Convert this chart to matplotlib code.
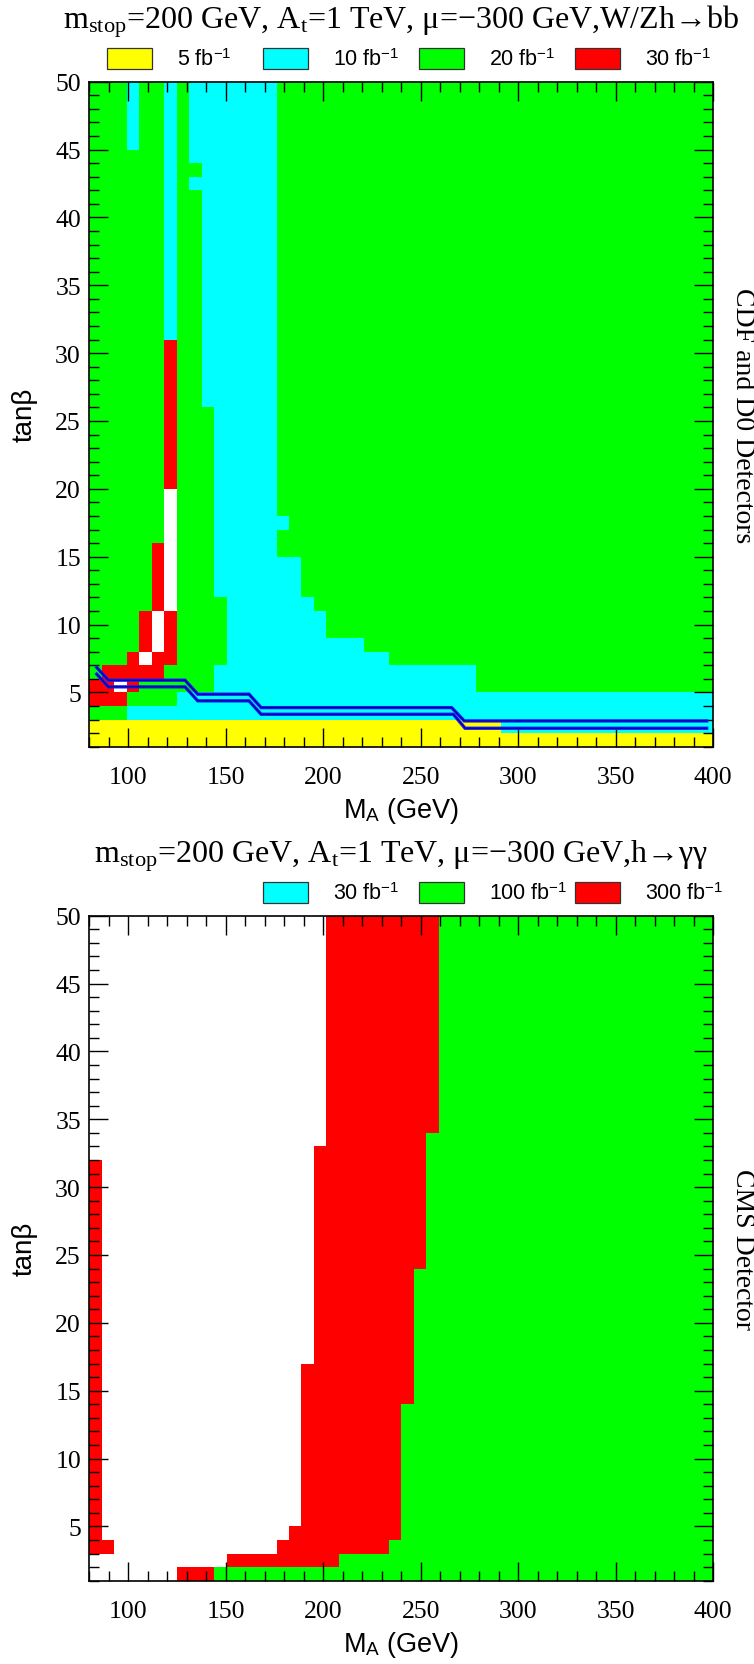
import matplotlib
matplotlib.use('Agg')
import numpy as np
import matplotlib.pyplot as plt
from matplotlib.colors import ListedColormap, BoundaryNorm
from matplotlib.patches import Rectangle
from matplotlib.ticker import MultipleLocator

plt.rcParams['mathtext.fontset'] = 'custom'
plt.rcParams['mathtext.rm'] = 'Liberation Serif'
plt.rcParams['mathtext.it'] = 'Liberation Serif:italic'
plt.rcParams['mathtext.sf'] = 'Liberation Sans'

SERIF = ['Liberation Serif', 'DejaVu Serif']
SANS = ['Liberation Sans', 'DejaVu Sans']

# reach levels: W = not reached, Y = 5 fb-1, C = 10/30 fb-1, G = 20/100 fb-1, R = 30/300 fb-1
W, Y, C, G, R = 0, 1, 2, 3, 4
level_colors = ['white', '#ffff00', '#00ffff', '#00ff00', '#ff0000']

# scan grid: M_A in 50 steps of 6.4 GeV, tan(beta) in steps of 1
ma_edges = np.linspace(80, 400, 51)
tb_edges = np.arange(1, 51)

# Tevatron W/Zh -> bb : (tanb_lo, tanb_hi, runs of (level, n columns) from M_A = 80 upward)
tev_rows = [
    (1, 2, [(Y, 50)]),
    (2, 3, [(Y, 33), (C, 17)]),
    (3, 4, [(G, 3), (C, 47)]),
    (4, 5, [(R, 3), (G, 4), (C, 43)]),
    (5, 6, [(R, 2), (W, 1), (R, 1), (G, 6), (C, 21), (G, 19)]),
    (6, 7, [(G, 1), (R, 5), (G, 4), (C, 21), (G, 19)]),
    (7, 8, [(G, 3), (R, 1), (W, 1), (R, 2), (G, 4), (C, 13), (G, 26)]),
    (8, 9, [(G, 4), (R, 1), (W, 1), (R, 1), (G, 4), (C, 11), (G, 28)]),
    (9, 11, [(G, 4), (R, 1), (W, 1), (R, 1), (G, 4), (C, 8), (G, 31)]),
    (11, 12, [(G, 5), (R, 1), (W, 1), (G, 4), (C, 7), (G, 32)]),
    (12, 15, [(G, 5), (R, 1), (W, 1), (G, 3), (C, 7), (G, 33)]),
    (15, 16, [(G, 5), (R, 1), (W, 1), (G, 3), (C, 5), (G, 35)]),
    (16, 17, [(G, 6), (W, 1), (G, 3), (C, 5), (G, 35)]),
    (17, 18, [(G, 6), (W, 1), (G, 3), (C, 6), (G, 34)]),
    (18, 20, [(G, 6), (W, 1), (G, 3), (C, 5), (G, 35)]),
    (20, 26, [(G, 6), (R, 1), (G, 3), (C, 5), (G, 35)]),
    (26, 31, [(G, 6), (R, 1), (G, 2), (C, 6), (G, 35)]),
    (31, 42, [(G, 6), (C, 1), (G, 2), (C, 6), (G, 35)]),
    (42, 43, [(G, 6), (C, 1), (G, 1), (C, 7), (G, 35)]),
    (43, 44, [(G, 6), (C, 1), (G, 2), (C, 6), (G, 35)]),
    (44, 45, [(G, 6), (C, 1), (G, 1), (C, 7), (G, 35)]),
    (45, 50, [(G, 3), (C, 1), (G, 2), (C, 1), (G, 1), (C, 7), (G, 35)]),
]

# CMS h -> gamma gamma
cms_rows = [
    (1, 2, [(W, 7), (R, 3), (G, 40)]),
    (2, 3, [(W, 11), (R, 9), (G, 30)]),
    (3, 4, [(R, 2), (W, 13), (R, 9), (G, 26)]),
    (4, 5, [(R, 1), (W, 15), (R, 9), (G, 25)]),
    (5, 14, [(R, 1), (W, 16), (R, 8), (G, 25)]),
    (14, 17, [(R, 1), (W, 16), (R, 9), (G, 24)]),
    (17, 24, [(R, 1), (W, 17), (R, 8), (G, 24)]),
    (24, 32, [(R, 1), (W, 17), (R, 9), (G, 23)]),
    (32, 33, [(W, 18), (R, 9), (G, 23)]),
    (33, 34, [(W, 19), (R, 8), (G, 23)]),
    (34, 50, [(W, 19), (R, 9), (G, 22)]),
]

# blue contour lines in the upper panel
line1_ma = [83.8, 89.8, 129.1, 135.6, 161.9, 168.1, 265.8, 272.3, 396.6]
line1_tb = [6.84, 5.90, 5.90, 4.87, 4.87, 3.88, 3.88, 2.90, 2.90]
line2_ma = [83.8, 89.8, 129.1, 135.6, 161.9, 168.1, 266.7, 272.7, 396.6]
line2_tb = [6.35, 5.41, 5.41, 4.38, 4.38, 3.39, 3.39, 2.36, 2.36]

tev_legend = [(Y, '5 fb'), (C, '10 fb'), (G, '20 fb'), (R, '30 fb')]
cms_legend = [(C, '30 fb'), (G, '100 fb'), (R, '300 fb')]

tev_title = r'm$_{\mathrm{stop}}$=200 GeV, A$_{\mathrm{t}}$=1 TeV, μ=−300 GeV,W/Zh→bb'
cms_title = r'm$_{\mathrm{stop}}$=200 GeV, A$_{\mathrm{t}}$=1 TeV, μ=−300 GeV,h→γγ'

W_PX, H_PX = 754, 1665
AX_L, AX_W, AX_H = 89.3, 624, 665


def build_grid(rows):
    z = np.zeros((len(tb_edges) - 1, len(ma_edges) - 1), dtype=int)
    for lo, hi, runs in rows:
        vals = np.concatenate([[lev] * n for lev, n in runs])
        z[lo - 1:hi - 1, :] = vals
    return z


def fx(px):
    return px / W_PX


def fy(px):
    return 1 - px / H_PX


def make_panel(fig, top, rows, title, legend, legend_start, side_label):
    ax = fig.add_axes([fx(AX_L), fy(top + AX_H), AX_W / W_PX, AX_H / H_PX])
    cmap = ListedColormap(level_colors)
    norm = BoundaryNorm(np.arange(-0.5, 5.5, 1), cmap.N)
    ax.pcolormesh(ma_edges, tb_edges, build_grid(rows), cmap=cmap, norm=norm,
                  edgecolors='none', antialiased=False)
    ax.set_xlim(80, 400)
    ax.set_ylim(1, 50)
    ax.xaxis.set_major_locator(MultipleLocator(50))
    ax.xaxis.set_minor_locator(MultipleLocator(10))
    ax.yaxis.set_major_locator(MultipleLocator(5))
    ax.yaxis.set_minor_locator(MultipleLocator(1))
    ax.tick_params(which='both', direction='in', top=True, right=True, width=1.0, colors='black')
    ax.tick_params(which='major', length=14)
    ax.tick_params(which='minor', length=7.5)
    ax.tick_params(axis='x', which='major', pad=14, labelsize=18.5)
    ax.tick_params(axis='y', which='major', pad=6, labelsize=18.5)
    for lab in ax.get_xticklabels() + ax.get_yticklabels():
        lab.set_family(SERIF)
    for sp in ax.spines.values():
        sp.set_linewidth(1.2)
        sp.set_zorder(5)

    ax.set_xlabel(r'M$_{\mathsf{A}}$ (GeV)', family=SANS, fontsize=19.5, va='top')
    ax.xaxis.set_label_coords(0.5, -0.073)
    ax.set_ylabel('tanβ', family=SANS, fontsize=20, va='center')
    ax.yaxis.set_label_coords(-0.103, 0.5)

    cx = AX_L + AX_W / 2
    fig.text(fx(cx), fy(top - 54.5), title, ha='center', va='baseline',
             family=SERIF, fontsize=23)
    fig.text(fx(743), fy(top + AX_H / 2), side_label, rotation=-90, ha='center',
             va='center', family=SERIF, fontsize=20)

    box_top = top - 33.4
    for i, (lev, lab) in enumerate(legend):
        bx = AX_L + 17.4 + 156 * (legend_start + i)
        fig.add_artist(Rectangle((fx(bx), fy(box_top + 20.5)), 45.5 / W_PX, 20.5 / H_PX,
                                 transform=fig.transFigure, facecolor=level_colors[lev],
                                 edgecolor='#333333', linewidth=0.9))
        fig.text(fx(bx + 70), fy(box_top + 11), lab + r'$^{\mathsf{-1}}$', ha='left',
                 va='center', family=SANS, fontsize=15.5)
    return ax


fig = plt.figure(figsize=(W_PX / 100, H_PX / 100), dpi=100)

ax1 = make_panel(fig, 82.7, tev_rows, tev_title, tev_legend, 0, 'CDF and D0 Detectors')
for ma, tb in [(line1_ma, line1_tb), (line2_ma, line2_tb)]:
    ax1.plot(ma, tb, color='#1a1aff', lw=2.4, solid_joinstyle='miter', zorder=3)
    ax1.plot(ma, tb, color='#00008b', lw=0.8, zorder=4)

ax2 = make_panel(fig, 916.7, cms_rows, cms_title, cms_legend, 1, 'CMS Detector')

fig.savefig('out.png', dpi=100)
